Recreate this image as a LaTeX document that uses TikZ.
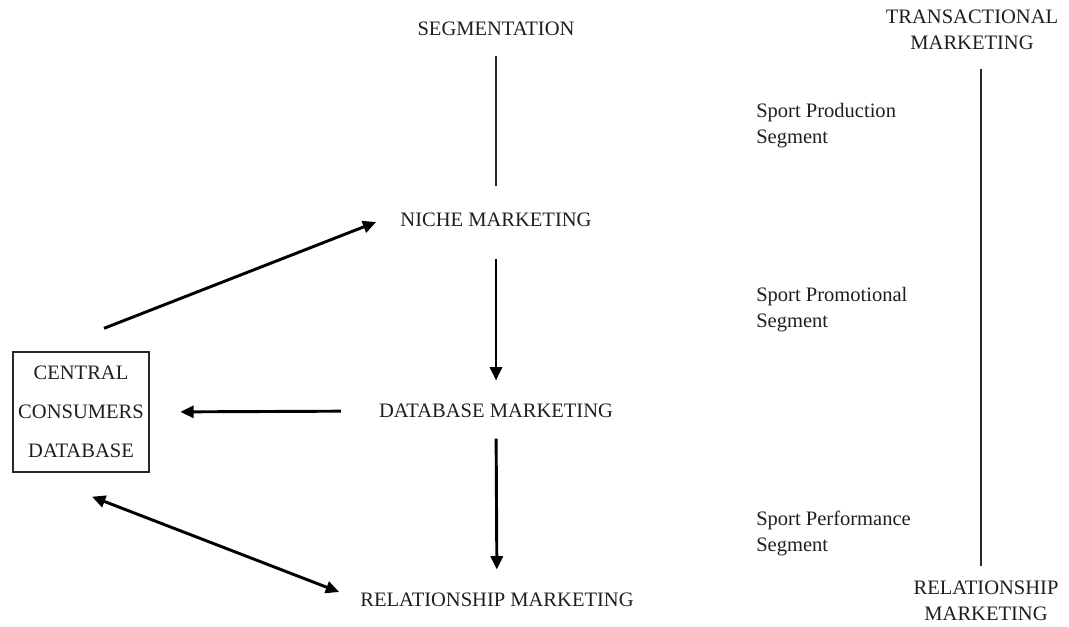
\documentclass[tikz,border=0pt]{standalone}
\usepackage{fontspec}
\setmainfont{Liberation Serif}
\usetikzlibrary{arrows.meta}
\definecolor{linegray}{RGB}{40,40,40}
\definecolor{textgray}{RGB}{30,30,30}

\begin{document}
\begin{tikzpicture}[x=0.75pt,y=-0.75pt,
		txt/.style={inner sep=0pt,text=textgray,font=\fontsize{15.4}{19.5}\selectfont},
		flow/.style={line width=2.2pt,-{Triangle[length=10pt,width=9pt]}},
		plain/.style={line width=1.6pt,color=linegray}]
			\useasboundingbox (0,0) rectangle (1069,626);
			\coordinate (seg_pos) at (496,29);
			\coordinate (niche_pos) at (496,220);
			\coordinate (dbm_pos) at (496,411);
			\coordinate (rel_pos) at (497,600);
			\coordinate (cdb_pos) at (81,412);
			\coordinate (trans_pos) at (972,30);
			\coordinate (relm_pos) at (986,601);
	
			\node[txt] (seg) at (seg_pos) {SEGMENTATION};
			\node[txt] (niche) at (niche_pos) {NICHE MARKETING};
			\node[txt] (dbm) at (dbm_pos) {DATABASE MARKETING};
			\node[txt] (rel) at (rel_pos) {RELATIONSHIP MARKETING};
			\node[draw=linegray,line width=1pt,minimum width=102pt,minimum height=90pt,align=center,inner sep=0pt,text=textgray,font=\fontsize{15.4}{29.25}\selectfont] (cdb) at (cdb_pos) {CENTRAL\\CONSUMERS\\DATABASE};
			
			\node[txt,align=center] (trans) at (trans_pos) {TRANSACTIONAL\\MARKETING};
			\node[txt,align=center] (relm) at (relm_pos) {RELATIONSHIP\\MARKETING};
			\node[txt,align=left,anchor=west] (prod) at (756,126) {Sport Production\\Segment};
			\node[txt,align=left,anchor=west] (promo) at (756,310) {Sport Promotional\\Segment};
			\node[txt,align=left,anchor=west] (perf) at (756,533) {Sport Performance\\Segment};
	
			\draw[plain,shorten <=14.5pt,shorten >=20.5pt] (seg.south) -- (niche.north);
			\draw[flow,shorten <=23.5pt,shorten >=17.5pt] (niche.south) -- (dbm.north);
			\draw[flow,shorten <=15.3pt,shorten >=17.5pt] (dbm.south) -- (rel.north);
			\draw[flow,shorten <=28.5pt,shorten >=23pt] (dbm.west) -- (cdb.east);
			\draw[flow] ([shift={(23,-23)}]cdb.north) -- ([shift={(-24,2)}]niche.west);
			\draw[line width=2.2pt,{Triangle[length=10pt,width=9pt]}-{Triangle[length=10pt,width=9pt]}] ([shift={(11,24)}]cdb.south) -- ([shift={(-21,-8)}]rel.west);
			\draw[plain,shorten <=13.8pt,shorten >=11pt] ([xshift=7]trans.south) -- ([xshift=7]trans.south |- relm.north);
		\end{tikzpicture}
\end{document}
